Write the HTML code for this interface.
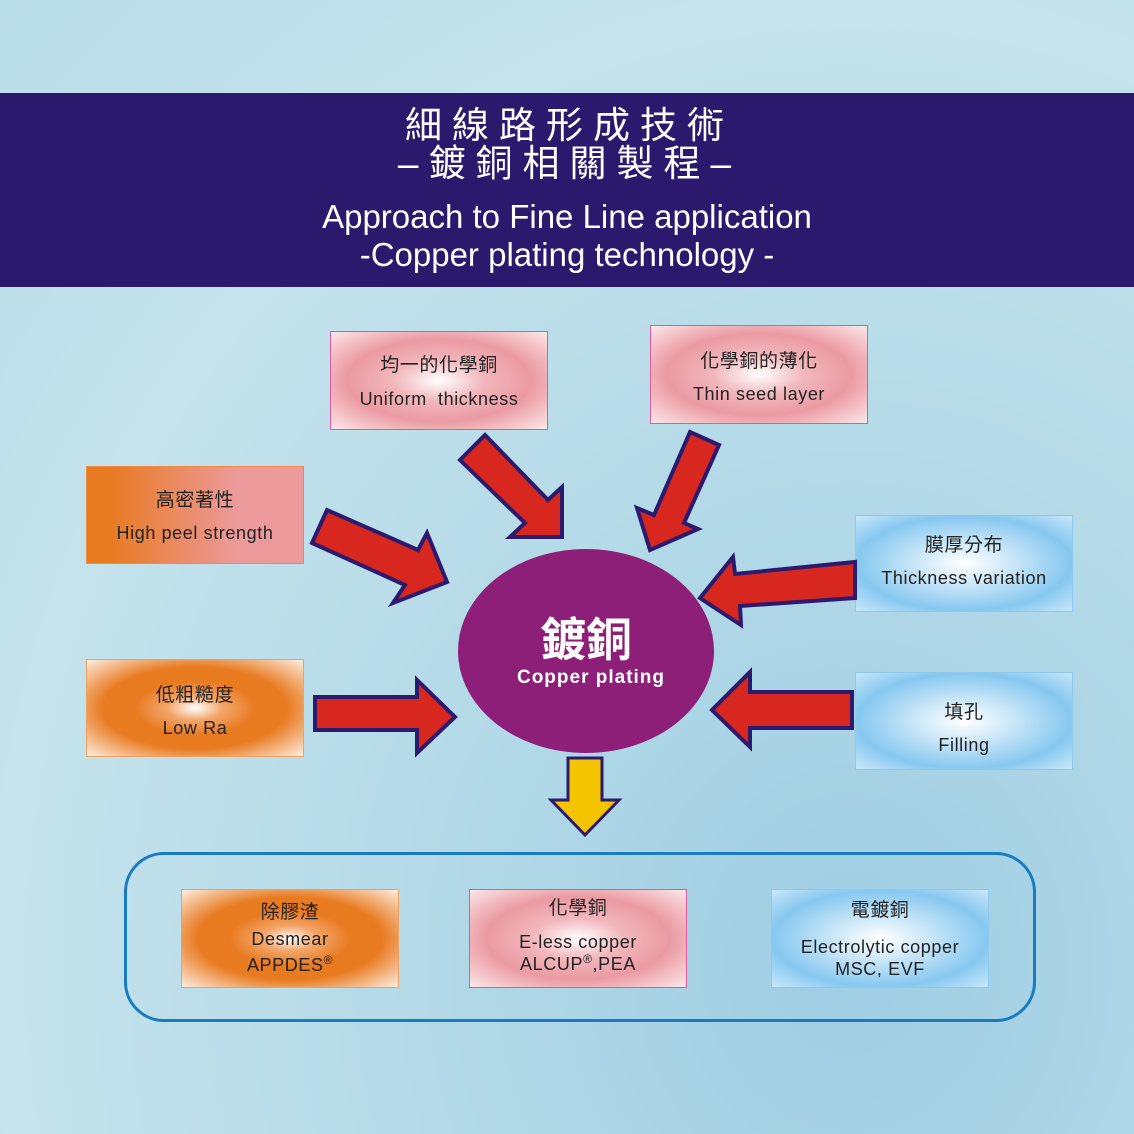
<!DOCTYPE html>
<html><head><meta charset="utf-8"><style>
body{margin:0}
#c{position:relative;width:1134px;height:1134px;overflow:hidden;font-family:"Liberation Sans","Noto Sans CJK TC",sans-serif;
background:radial-gradient(ellipse at 75% 85%,#9fcde3 0%,#b6dbe8 40%,#c4e3ec 70%,#b9dde9 100%);}
.ban{position:absolute;left:0;top:93px;width:1134px;height:194px;background:#2b196e;color:#fff;text-align:center}
.box{position:absolute;box-sizing:border-box;text-align:center;color:#222;font-size:18px;letter-spacing:0.6px}
.pk{background:radial-gradient(ellipse at center,#fff 0%,#f1b7bc 30%,#eb9aa2 60%,#fbe8ea 100%);border:1.5px solid #e05aa0}
.or{background:radial-gradient(ellipse at center,#fff 0%,#f3a66a 18%,#e87a20 40%,#e87a20 60%,#fdeee0 100%);border:1.5px solid #f0a060}
.bl{background:radial-gradient(ellipse at center,#fff 0%,#cde8f8 30%,#86c8f0 70%,#c9e8f8 100%);border:1.5px solid #8cc8ef}
.cn{font-size:19px;font-weight:normal}
</style></head><body><div id="c">
<div class="ban">
<div style="position:absolute;top:14px;width:100%;font-size:37px;line-height:38px;letter-spacing:10px;padding-left:5px;box-sizing:border-box">細線路形成技術<br>–鍍銅相關製程–</div>
<div style="position:absolute;top:105px;width:100%;font-size:33px;line-height:38px">Approach to Fine Line application<br>-Copper plating technology -</div>
</div>

<div class="box pk" style="left:330px;top:331px;width:218px;height:99px"><div class="cn" style="margin-top:18px">均一的化學銅</div><div style="margin-top:12px">Uniform&nbsp; thickness</div></div>
<div class="box pk" style="left:650px;top:325px;width:218px;height:99px"><div class="cn" style="margin-top:20px">化學銅的薄化</div><div style="margin-top:11px">Thin seed layer</div></div>
<div class="box" style="left:86px;top:466px;width:218px;height:98px;background:linear-gradient(90deg,#e87a20 10%,#ec9a9c 70%);border:1.5px solid #f08a40"><div class="cn" style="margin-top:18px">高密著性</div><div style="margin-top:11px">High peel strength</div></div>
<div class="box or" style="left:86px;top:659px;width:218px;height:98px"><div class="cn" style="margin-top:20px">低粗糙度</div><div style="margin-top:11px">Low Ra</div></div>
<div class="box bl" style="left:855px;top:515px;width:218px;height:97px"><div class="cn" style="margin-top:14px">膜厚分布</div><div style="margin-top:11px">Thickness variation</div></div>
<div class="box bl" style="left:855px;top:672px;width:218px;height:98px"><div class="cn" style="margin-top:24px">填孔</div><div style="margin-top:11px">Filling</div></div>

<div style="position:absolute;left:124px;top:852px;width:912px;height:170px;box-sizing:border-box;border:3px solid #1a7cc0;border-radius:40px"></div>
<div class="box or" style="left:181px;top:889px;width:218px;height:99px;line-height:26px"><div class="cn" style="margin-top:10px">除膠渣</div><div>Desmear</div><div>APPDES<sup style="font-size:12px;line-height:0">®</sup></div></div>
<div class="box pk" style="left:469px;top:889px;width:218px;height:99px;line-height:22px"><div class="cn" style="margin-top:8px">化學銅</div><div style="margin-top:11px">E-less copper</div><div>ALCUP<sup style="font-size:12px;line-height:0">®</sup>,PEA</div></div>
<div class="box bl" style="left:771px;top:889px;width:218px;height:99px;line-height:22px"><div class="cn" style="margin-top:10px">電鍍銅</div><div style="margin-top:14px">Electrolytic copper</div><div>MSC, EVF</div></div>

<svg style="position:absolute;left:0;top:0" width="1134" height="1134">
<g fill="#d8271f" stroke="#2b1a6e" stroke-width="4" stroke-linejoin="miter">
<polygon points="460,460 485,435 548,500 562,487 562,537 510,537 525,523"/>
<polygon points="312,543 327,510 418,550 427,533 447,582 393,603 405,585"/>
<polygon points="315,697 417,697 417,680 455,717 417,753 417,730 315,730"/>
<polygon points="690,432 719,445 684,523 698,529 650,550 637,508 654,515"/>
<polygon points="855,562 855,598 740,606 741,625 700,598 733,557 735,574"/>
<polygon points="852,692 852,728 750,728 750,747 712,710 750,672 750,692"/>
</g>
<polygon points="568,758 602,758 602,800 619,800 585,835 551,800 568,800" fill="#f5c400" stroke="#2b1a6e" stroke-width="3"/>
<ellipse cx="586" cy="651" rx="128" ry="102" fill="#8e1f78"/>
<text x="586" y="656" text-anchor="middle" fill="#fff" font-size="46" font-family="Noto Sans CJK TC,sans-serif" font-weight="bold">鍍銅</text>
<text x="591" y="683" text-anchor="middle" fill="#fff" font-size="19" font-weight="bold" letter-spacing="1" font-family="Liberation Sans,sans-serif">Copper plating</text>
</svg>
</div></body></html>
